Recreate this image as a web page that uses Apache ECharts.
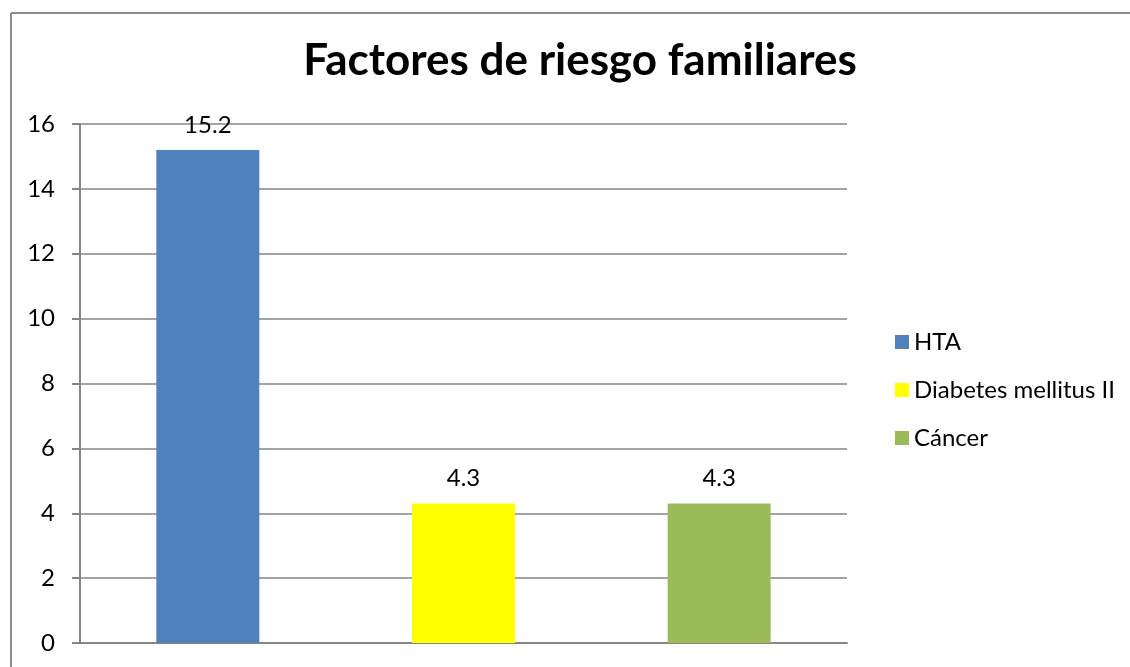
<!DOCTYPE html>
<html>
<head>
<meta charset="utf-8">
<script src="https://cdn.jsdelivr.net/npm/echarts@6/dist/echarts.min.js"></script>
<style>
  html, body { margin: 0; padding: 0; background: #fff; }
  #chart { width: 1130px; height: 667px; }
</style>
</head>
<body>
<div id="chart"></div>
<script>
  // datos del gráfico
  let categorias = ['HTA', 'Diabetes mellitus II', 'Cáncer'];
  let valores = [15.2, 4.3, 4.3];
  let colores = ['#4f81bd', '#ffff00', '#9bbb59'];

  let myChart = echarts.init(document.getElementById('chart'));

  let series = categorias.map(function(nombre, i) {
    return {
      name: nombre,
      type: 'bar',
      stack: 'total',
      barWidth: 103,
      itemStyle: { color: colores[i] },
      label: {
        show: true,
        position: 'top',
        distance: 13,
        color: '#000',
        fontSize: 24,
        fontFamily: 'Lato'
      },
      data: categorias.map(function(c, j) { return j === i ? valores[i] : '-'; })
    };
  });

  let option = {
    animation: false,
    backgroundColor: '#fff',
    textStyle: { fontFamily: 'Lato' },
    title: {
      text: 'Factores de riesgo familiares',
      left: 575,
      textAlign: 'center',
      top: 34,
      textStyle: {
        color: '#000',
        fontSize: 44,
        fontWeight: 'bold',
        fontFamily: 'Lato'
      }
    },
    graphic: [
      { type: 'line', shape: { x1: 11, y1: 13, x2: 1130, y2: 13 }, style: { stroke: '#8c8c8c', lineWidth: 2 } },
      { type: 'line', shape: { x1: 11, y1: 13, x2: 11, y2: 667 }, style: { stroke: '#8c8c8c', lineWidth: 2 } }
    ],
    legend: {
      orient: 'vertical',
      left: 890,
      top: 325,
      itemWidth: 14,
      itemHeight: 14,
      itemGap: 24,
      icon: 'rect',
      textStyle: { fontSize: 24, color: '#000', fontFamily: 'Lato' },
      data: categorias
    },
    grid: {
      left: 80,
      right: 283,
      top: 124,
      bottom: 24,
      containLabel: false
    },
    xAxis: {
      type: 'category',
      data: categorias,
      axisLine: { lineStyle: { color: '#868686', width: 2 } },
      axisTick: { show: false },
      axisLabel: { show: false }
    },
    yAxis: {
      type: 'value',
      min: 0,
      max: 16,
      interval: 2,
      axisLine: { show: true, lineStyle: { color: '#868686', width: 2 } },
      axisTick: { show: true, length: 8, lineStyle: { color: '#868686', width: 2 } },
      axisLabel: { fontSize: 24, color: '#000', margin: 25, fontFamily: 'Lato' },
      splitLine: { show: true, lineStyle: { color: '#868686', width: 1.5 } }
    },
    series: series
  };

  myChart.setOption(option);
</script>
</body>
</html>
